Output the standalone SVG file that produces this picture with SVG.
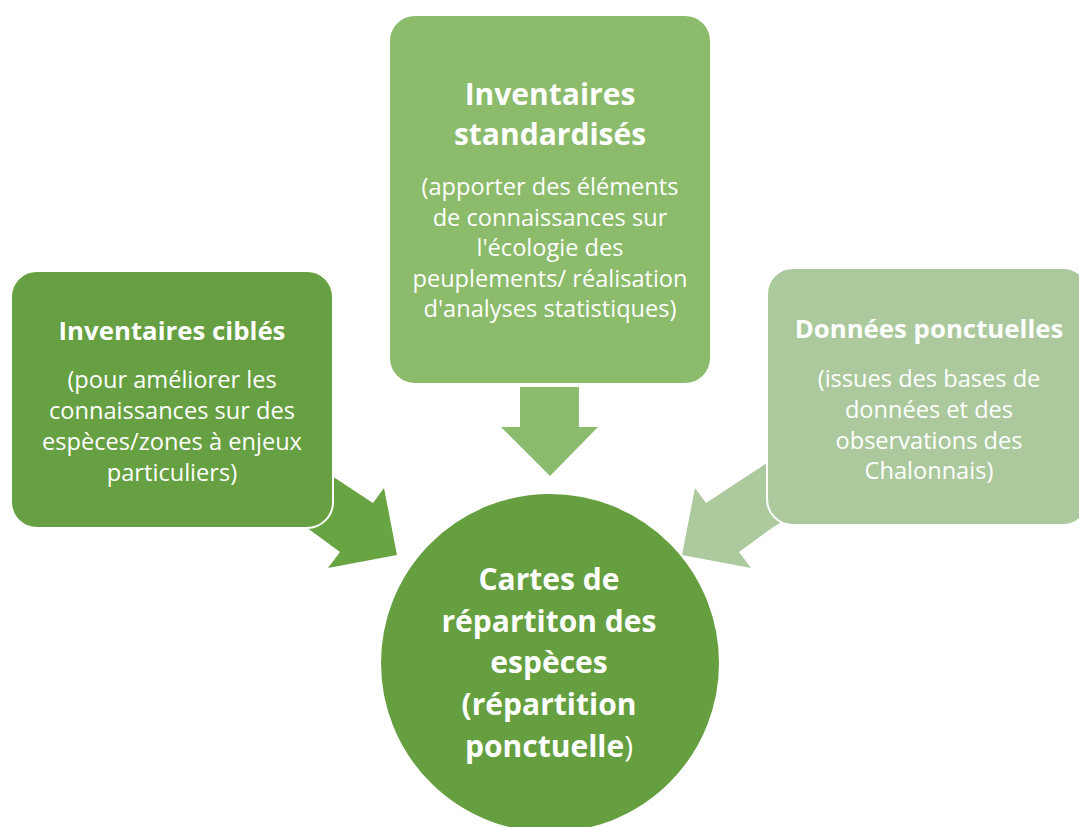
<svg xmlns="http://www.w3.org/2000/svg" width="1079" height="827" viewBox="0 0 1079 827">
<style>
.box{stroke:#fff;stroke-width:2}
.t{font-family:"Open Sans","Liberation Sans",sans-serif;fill:#fff;text-anchor:middle}
.b{font-weight:bold}
.bb{font-size:30px}
.bm{font-size:25.8px}
.s{font-size:23.6px}
</style>
<rect width="1079" height="827" fill="#fff"/>
<g id="connectors">
<polygon fill="#69a443" points="335,478 373,503 384,488 397,555 328,568 340,552 310,530 270,504 295,452"/>
<polygon fill="#adca9e" points="744,478 706,503 695,488 682,555 751,568 739,552 769,530 809,504 784,452"/>
<polygon fill="#8bbb6c" points="520,387 579,387 579,427 598,427 550,476 501,427 520,427"/>
</g>
<g id="n-left">
<rect class="box" x="11" y="271" width="322" height="257" rx="26" fill="#66a042"/>
<text class="t b bm" x="172" y="340">Inventaires ciblés</text>
<text class="t s" x="172" y="388">(pour améliorer les</text>
<text class="t s" x="172" y="419">connaissances sur des</text>
<text class="t s" x="172" y="450">espèces/zones à enjeux</text>
<text class="t s" x="172" y="481">particuliers)</text>
</g>
<g id="n-top">
<rect class="box" x="389" y="15" width="322" height="369" rx="26" fill="#8bbb6b"/>
<text class="t b bb" x="550" y="105">Inventaires</text>
<text class="t b bb" x="550" y="145">standardisés</text>
<text class="t s" x="550" y="195">(apporter des éléments</text>
<text class="t s" x="550" y="226">de connaissances sur</text>
<text class="t s" x="550" y="256">l'écologie des</text>
<text class="t s" x="550" y="287">peuplements/ réalisation</text>
<text class="t s" x="550" y="317">d'analyses statistiques)</text>
</g>
<g id="n-right">
<rect class="box" x="767" y="268" width="322" height="257" rx="26" fill="#abc99d"/>
<text class="t b bm" x="929" y="338">Données ponctuelles</text>
<text class="t s" x="929" y="387">(issues des bases de</text>
<text class="t s" x="929" y="418">données et des</text>
<text class="t s" x="929" y="449">observations des</text>
<text class="t s" x="929" y="479">Chalonnais)</text>
</g>
<g id="n-center">
<circle cx="550" cy="663" r="170" fill="#659f40" stroke="#fff" stroke-width="2"/>
<text class="t b bb" x="549" y="590">Cartes de</text>
<text class="t b bb" x="549" y="632">répartiton des</text>
<text class="t b bb" x="549" y="673">espèces</text>
<text class="t b bb" x="549" y="715">(répartition</text>
<text class="t b bb" x="549" y="757">ponctuelle<tspan font-weight="normal">)</tspan></text>
</g>
</svg>
